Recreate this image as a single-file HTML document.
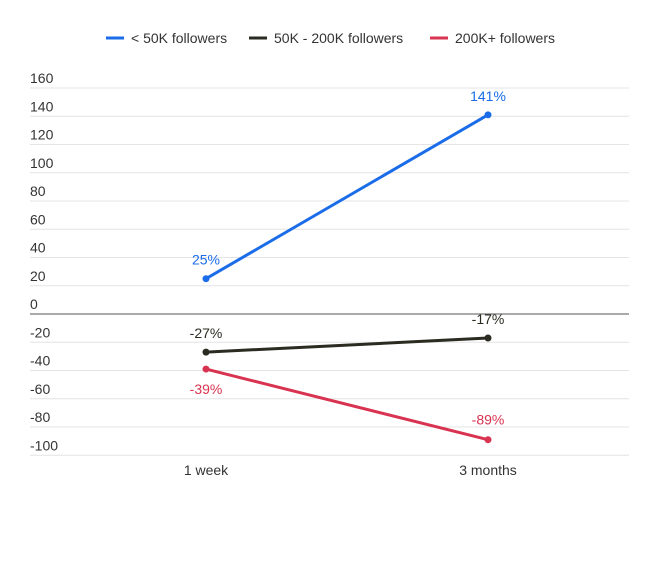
<!DOCTYPE html>
<html><head><meta charset="utf-8"><style>
body{margin:0;background:#fff;font-family:"Liberation Sans",sans-serif;}
</style></head><body>
<svg width="671" height="570" xmlns="http://www.w3.org/2000/svg" font-family="Liberation Sans, sans-serif">
<g id="legend"></g>
<g id="grid"></g>
<g id="series"></g>
</svg>
<script>
const categories=["1 week","3 months"];
const small=[25,141];
const mid=[-27,-17];
const large=[-39,-89];
const seriesNames=["< 50K followers","50K - 200K followers","200K+ followers"];
const colors=["#1a6ce8","#2b2b22","#d83350"];
const ticks=[160,140,120,100,80,60,40,20,0,-20,-40,-60,-80,-100];
const NS="http://www.w3.org/2000/svg";
function y(v){return 314-v*226/160;}
function x(i){return 206+i*282;}
function mk(t,a,p){const e=document.createElementNS(NS,t);for(const k in a)e.setAttribute(k,a[k]);p.appendChild(e);return e;}
const grid=document.getElementById('grid');
ticks.forEach(t=>{
 const l=mk('line',{x1:30,x2:629,y1:y(t),y2:y(t),stroke:t===0?'#555':'#e4e4e4','stroke-width':1},grid);
 
 
 const tx=mk('text',{x:30,y:y(t)-5,'font-size':14,fill:'#333'},grid);tx.textContent=t;
 
 
});
categories.forEach((c,i)=>{
 const tx=mk('text',{x:x(i),y:475,'font-size':14,fill:'#333','text-anchor':'middle'},grid);tx.textContent=c;
 
 
});
const ser=document.getElementById('series');
const data=[small,mid,large];
const labelOff=[[-19,-19],[-19,-19],[20,-20]];
data.forEach((d,s)=>{
 const pl=mk('polyline',{points:d.map((v,i)=>x(i)+','+y(v)).join(' '),fill:'none',stroke:colors[s],'stroke-width':3},ser);
 
 
 d.forEach((v,i)=>{
  const c=mk('circle',{cx:x(i),cy:y(v),r:3.5,fill:colors[s]},ser);
  
  
  const t=mk('text',{x:x(i),y:y(v)+labelOff[s][i]+5,'font-size':14,fill:colors[s],'text-anchor':'middle'},ser);
  t.textContent=v+'%';
  
  
 });
});
const lg=document.getElementById('legend');
const lx=[106,249,430];
seriesNames.forEach((n,s)=>{
 const l=mk('line',{x1:lx[s],x2:lx[s]+18,y1:38,y2:38,stroke:colors[s],'stroke-width':3},lg);
 
 
 const t=mk('text',{x:lx[s]+25,y:43,'font-size':14,fill:'#333'},lg);t.textContent=n;
 
 
});
</script>
</body></html>
